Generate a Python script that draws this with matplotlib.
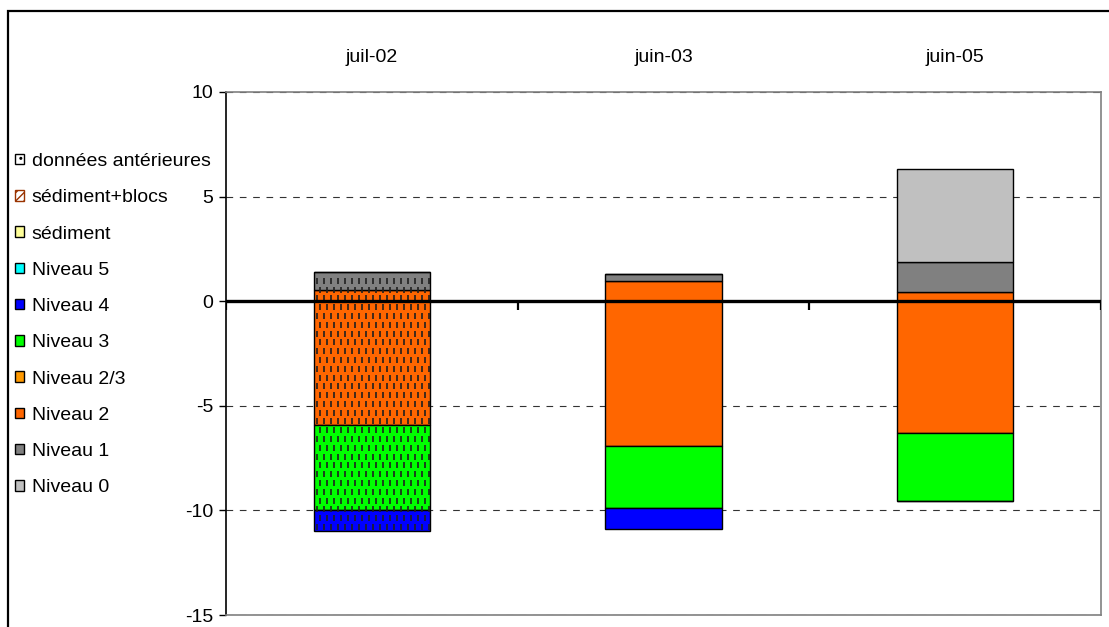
import numpy as np
import matplotlib
matplotlib.use("Agg")
import matplotlib.pyplot as plt
from matplotlib.patches import Patch, Rectangle

plt.rcParams['font.family'] = ['Liberation Sans', 'DejaVu Sans']
plt.rcParams['axes.unicode_minus'] = False

dates = ['juil-02', 'juin-03', 'juin-05']

# positive part of each stack (from 0 upwards)
niveau2_haut = [0.53, 0.96, 0.45]
niveau1 = [0.85, 0.33, 1.42]
niveau0 = [0.0, 0.0, 4.43]

# negative part of each stack (from 0 downwards)
niveau2_bas = [-5.9, -6.94, -6.3]
niveau3 = [-4.1, -2.96, -3.27]
niveau4 = [-1.0, -1.0, 0.0]

# first campaign is drawn with the "données antérieures" pattern
anterieur = [True, False, False]

couleurs = {
    'Niveau 0': '#C0C0C0',
    'Niveau 1': '#808080',
    'Niveau 2': '#FF6600',
    'Niveau 2/3': '#FF9900',
    'Niveau 3': '#00FF00',
    'Niveau 4': '#0000FF',
    'Niveau 5': '#00FFFF',
    'sédiment': '#FFFF99',
}

taille = 14

fig = plt.figure(figsize=(11.09, 6.27), dpi=100)
ax = fig.add_axes([226 / 1109, 1 - 615 / 627, 875 / 1109, 523 / 627])

x = np.arange(len(dates)) + 0.5
largeur = 0.4


def empiler(series, noms):
    base = np.zeros(len(dates))
    for vals, nom in zip(series, noms):
        vals = np.asarray(vals)
        ax.bar(x, vals, largeur, bottom=base, color=couleurs[nom],
               edgecolor='black', linewidth=1, zorder=3)
        base = base + vals
    return base


y_haut = empiler([niveau2_haut, niveau1, niveau0], ['Niveau 2', 'Niveau 1', 'Niveau 0'])
y_bas = empiler([niveau2_bas, niveau3, niveau4], ['Niveau 2', 'Niveau 3', 'Niveau 4'])

# short staggered vertical dashes over the older campaign
for i, flag in enumerate(anterieur):
    if not flag:
        continue
    dx = 7 / 292
    dy = 0.42
    clip = Rectangle((x[i] - largeur / 2, y_bas[i]), largeur, y_haut[i] - y_bas[i],
                     transform=ax.transData)
    for k, yy in enumerate(np.arange(y_bas[i] + dy / 2, y_haut[i], dy)):
        off = dx / 2 if k % 2 else 0
        xs = np.arange(x[i] - largeur / 2 + dx / 2 + off, x[i] + largeur / 2, dx)
        sc = ax.scatter(xs, np.full_like(xs, yy), marker='|', s=14,
                        linewidths=1.2, color='#202020', zorder=4)
        sc.set_clip_path(clip)

ax.set_xlim(0, len(dates))
ax.set_ylim(-15, 10)
ax.set_yticks(np.arange(-15, 11, 5))
ax.tick_params(axis='y', direction='out', length=5, width=1, labelsize=taille, pad=4)

# category names above the plot
ax.xaxis.tick_top()
ax.set_xticks(x)
ax.set_xticklabels(dates)
ax.tick_params(axis='x', length=0, labelsize=taille, pad=19)

ax.yaxis.grid(True, color='#333333', linestyle=(0, (6, 6)), linewidth=0.8)
ax.set_axisbelow(True)

for side in ('top', 'right', 'bottom'):
    ax.spines[side].set_color('#808080')
    ax.spines[side].set_linewidth(1.2)
ax.spines['left'].set_color('black')
ax.spines['left'].set_linewidth(1.2)

# zero axis with category separators
ax.axhline(0, color='black', linewidth=2.4, zorder=5)
ax.vlines(np.arange(len(dates) + 1), -0.4, 0, color='black', linewidth=1.6, zorder=5)

legende = [
    ('données antérieures', Patch(facecolor='white', edgecolor='black', hatch='..')),
    ('sédiment+blocs', Patch(facecolor='white', edgecolor='#993300', hatch='////')),
    ('sédiment', Patch(facecolor=couleurs['sédiment'], edgecolor='black')),
    ('Niveau 5', Patch(facecolor=couleurs['Niveau 5'], edgecolor='black')),
    ('Niveau 4', Patch(facecolor=couleurs['Niveau 4'], edgecolor='black')),
    ('Niveau 3', Patch(facecolor=couleurs['Niveau 3'], edgecolor='black')),
    ('Niveau 2/3', Patch(facecolor=couleurs['Niveau 2/3'], edgecolor='black')),
    ('Niveau 2', Patch(facecolor=couleurs['Niveau 2'], edgecolor='black')),
    ('Niveau 1', Patch(facecolor=couleurs['Niveau 1'], edgecolor='black')),
    ('Niveau 0', Patch(facecolor=couleurs['Niveau 0'], edgecolor='black')),
]
fig.legend([h for _, h in legende], [t for t, _ in legende],
           loc='upper left', bbox_to_anchor=(15 / 1109, 1 - 153 / 627),
           frameon=False, fontsize=taille, handlelength=0.45, handleheight=0.45,
           handletextpad=0.4, labelspacing=0.99, borderpad=0, borderaxespad=0)

# outer chart frame
fig.patches.append(Rectangle((8 / 1109, -0.1), 1.2, 1.1 - 11 / 627,
                             transform=fig.transFigure, fill=False,
                             edgecolor='black', linewidth=1.6, zorder=0))

fig.savefig('out.png', dpi=100)
